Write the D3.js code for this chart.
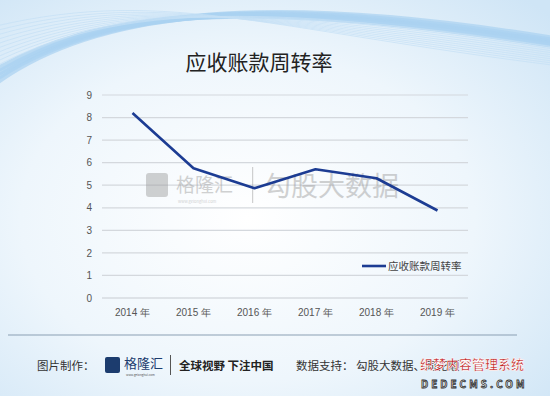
<!DOCTYPE html>
<html>
<head>
<meta charset="utf-8">
<script src="https://cdn.jsdelivr.net/npm/d3@7"></script>
<style>
  body { margin: 0; }
  svg { display: block; font-family: "Noto Sans CJK SC", "Noto Sans", sans-serif; }
</style>
</head>
<body>
<svg width="550" height="396"></svg>
<script>
const years = ['2014 年', '2015 年', '2016 年', '2017 年', '2018 年', '2019 年'];
const turnover = [8.2, 5.75, 4.87, 5.71, 5.31, 3.88];
const yTicks = [0, 1, 2, 3, 4, 5, 6, 7, 8, 9];
const title = '应收账款周转率';

const svg = d3.select('svg');
const W = 550, H = 396;

// 背景
const defs = svg.append('defs');
const bg = defs.append('radialGradient').attr('id', 'bg')
    .attr('cx', '45%').attr('cy', '55%').attr('r', '75%');
bg.append('stop').attr('offset', '0%').attr('stop-color', '#ffffff');
bg.append('stop').attr('offset', '55%').attr('stop-color', '#eef6fc');
bg.append('stop').attr('offset', '100%').attr('stop-color', '#cfe5f6');
svg.append('rect').attr('width', W).attr('height', H).attr('fill', 'url(#bg)');

// 上方波紋
const waves = d3.range(14);
svg.append('g').selectAll('path')
    .data(waves)
    .join('path')
    .attr('d', d => `M${-20} ${95 - d * 5} C ${80 + d * 6} ${10 - d * 2}, ${260} ${-10 + d * 3}, ${560} ${40 + d * 2}`)
    .attr('fill', 'none')
    .attr('stroke', (d, i) => i < 4 ? '#a9d2f1' : '#c4e0f5')
    .attr('stroke-width', (d, i) => i < 4 ? 6 : 1)
    .attr('opacity', 0.7);

// 標題
svg.append('text')
    .attr('x', 259).attr('y', 70)
    .attr('text-anchor', 'middle')
    .attr('font-size', 21)
    .attr('fill', '#222')
    .text(title);

const x = d3.scaleBand().domain(years).range([102, 468]);
const y = d3.scaleLinear().domain([0, 9]).range([298, 95]);

// 格線
svg.append('g').selectAll('line')
    .data(yTicks)
    .join('line')
    .attr('x1', 102).attr('x2', 468)
    .attr('y1', d => y(d)).attr('y2', d => y(d))
    .attr('stroke', d => d === 0 ? '#c8ccd2' : '#d4d8dd')
    .attr('stroke-width', 1.2);

// y 軸
const yAxis = svg.append('g')
    .attr('transform', 'translate(92,0)')
    .call(d3.axisLeft(y).tickValues(yTicks).tickSize(0).tickPadding(0));
yAxis.select('.domain').remove();
yAxis.selectAll('text').attr('font-size', 10).attr('fill', '#555');

// x 軸
const xAxis = svg.append('g')
    .attr('transform', 'translate(0,306)')
    .call(d3.axisBottom(x).tickSize(0).tickPadding(3));
xAxis.select('.domain').remove();
xAxis.selectAll('text').attr('font-size', 10).attr('fill', '#555');

// 浮水印
const wm = svg.append('g').attr('fill', '#9a9a9a').attr('opacity', 0.45);
wm.append('rect').attr('x', 146).attr('y', 173).attr('width', 22).attr('height', 24).attr('rx', 3);
wm.append('text').attr('x', 176).attr('y', 192).attr('font-size', 19).text('格隆汇');
wm.append('text').attr('x', 178).attr('y', 203).attr('font-size', 4).text('www.gelonghui.com');
wm.append('rect').attr('x', 252).attr('y', 167).attr('width', 1.2).attr('height', 36);
wm.append('text').attr('x', 264).attr('y', 196).attr('font-size', 27).text('勾股大数据');

// 折線
const line = d3.line()
    .x((d, i) => x(years[i]) + x.bandwidth() / 2)
    .y(d => y(d));
svg.append('path')
    .datum(turnover)
    .attr('d', line)
    .attr('fill', 'none')
    .attr('stroke', '#1c3c93')
    .attr('stroke-width', 2.6)
    .attr('stroke-linejoin', 'round');

// 圖例
svg.append('line')
    .attr('x1', 362).attr('x2', 386).attr('y1', 266).attr('y2', 266)
    .attr('stroke', '#1c3c93').attr('stroke-width', 2.6);
svg.append('text')
    .attr('x', 388).attr('y', 270)
    .attr('font-size', 10.5).attr('fill', '#444')
    .text(title);

// 頁尾
svg.append('line')
    .attr('x1', 8).attr('x2', 517).attr('y1', 335).attr('y2', 335)
    .attr('stroke', '#8a9fb3').attr('stroke-width', 1);
const foot = svg.append('g').attr('font-size', 11.5).attr('fill', '#333');
foot.append('text').attr('x', 37).attr('y', 370).text('图片制作：');
foot.append('rect').attr('x', 105).attr('y', 357).attr('width', 15).attr('height', 16).attr('rx', 2).attr('fill', '#1c3c6e');
foot.append('text').attr('x', 124).attr('y', 368).attr('font-size', 13).attr('fill', '#1c3c6e').text('格隆汇');
foot.append('text').attr('x', 126).attr('y', 376).attr('font-size', 3).attr('fill', '#555').text('www.gelonghui.com');
foot.append('rect').attr('x', 170).attr('y', 355).attr('width', 1).attr('height', 20).attr('fill', '#555');
foot.append('text').attr('x', 179).attr('y', 370).attr('font-weight', 'bold').attr('fill', '#222').text('全球视野 下注中国');
foot.append('text').attr('x', 296).attr('y', 370).text('数据支持： 勾股大数据、同花顺');
svg.append('text').attr('x', 420).attr('y', 369).attr('font-size', 13).attr('font-weight', 'bold')
    .attr('fill', '#c02020').attr('stroke', '#fff').attr('stroke-width', 0.6).text('织梦内容管理系统');
svg.append('text').attr('x', 421).attr('y', 388).attr('font-size', 10).attr('font-weight', 'bold')
    .attr('letter-spacing', 3).attr('fill', '#fff').attr('stroke', '#333').attr('stroke-width', 0.8).text('DEDECMS.COM');
</script>
</body>
</html>
